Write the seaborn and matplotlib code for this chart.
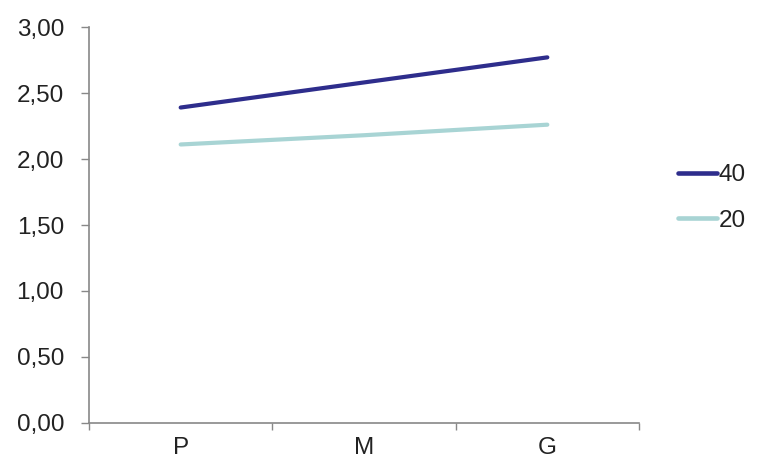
import matplotlib
matplotlib.use("Agg")
import matplotlib.pyplot as plt
import seaborn as sns
import pandas as pd
from matplotlib.ticker import FuncFormatter, FixedLocator
from matplotlib.lines import Line2D

categories = ["P", "M", "G"]
series_40 = [2.39, 2.58, 2.77]
series_20 = [2.11, 2.18, 2.26]
series_names = ["40", "20"]
yticks = [0.0, 0.5, 1.0, 1.5, 2.0, 2.5, 3.0]

sns.set_style("white")
plt.rcParams['font.family'] = ['Liberation Sans', 'DejaVu Sans']

df = pd.DataFrame({
    "cat": categories * 2,
    "value": series_40 + series_20,
    "series": [series_names[0]] * 3 + [series_names[1]] * 3,
})
df["x"] = df["cat"].map({c: i for i, c in enumerate(categories)})

fig = plt.figure(figsize=(7.65, 4.62), dpi=100)
ax = fig.add_axes([89/765, 39/462, 550/765, 396/462])

palette = {"40": "#2e2d8c", "20": "#a8d4d4"}
LW = 3.0
FS = 17.5
sns.lineplot(data=df, x="x", y="value", hue="series", hue_order=series_names,
             palette=palette, linewidth=LW, ax=ax, legend=False, sort=False)

ax.set_xlim(-0.5, 2.5)
ax.set_ylim(0, 3)
ax.set_yticks(yticks)
ax.yaxis.set_major_formatter(FuncFormatter(lambda v, p: f"{v:.2f}".replace(".", ",")))
ax.set_xticks([-0.5, 0.5, 1.5, 2.5])
ax.set_xticklabels([])
ax.xaxis.set_minor_locator(FixedLocator(range(len(categories))))
ax.set_xticklabels(categories, minor=True)
ax.tick_params(axis="x", which="minor", length=0, pad=10, labelsize=FS, colors="#222222")
ax.tick_params(axis="x", which="major", length=5, width=1, color="#888888", direction="out", bottom=True)
ax.tick_params(axis="y", length=6, width=1, color="#888888", direction="out", left=True,
               labelsize=FS, labelcolor="#222222", pad=12)
ax.set_xlabel("")
ax.set_ylabel("")
for s in ["top", "right"]:
    ax.spines[s].set_visible(False)
for s in ["left", "bottom"]:
    ax.spines[s].set_color("#888888")
    ax.spines[s].set_linewidth(1.2)

handles = [Line2D([0], [0], color=palette[n], lw=3.3) for n in series_names]
fig.legend(handles, series_names, loc="center left", bbox_to_anchor=(678/765, 1 - 198/462),
           frameon=False, handlelength=1.6, handletextpad=0.08, labelspacing=0.95,
           borderpad=0, borderaxespad=0, fontsize=FS, labelcolor="#222222")

fig.savefig("out.png", dpi=100, facecolor="white")
